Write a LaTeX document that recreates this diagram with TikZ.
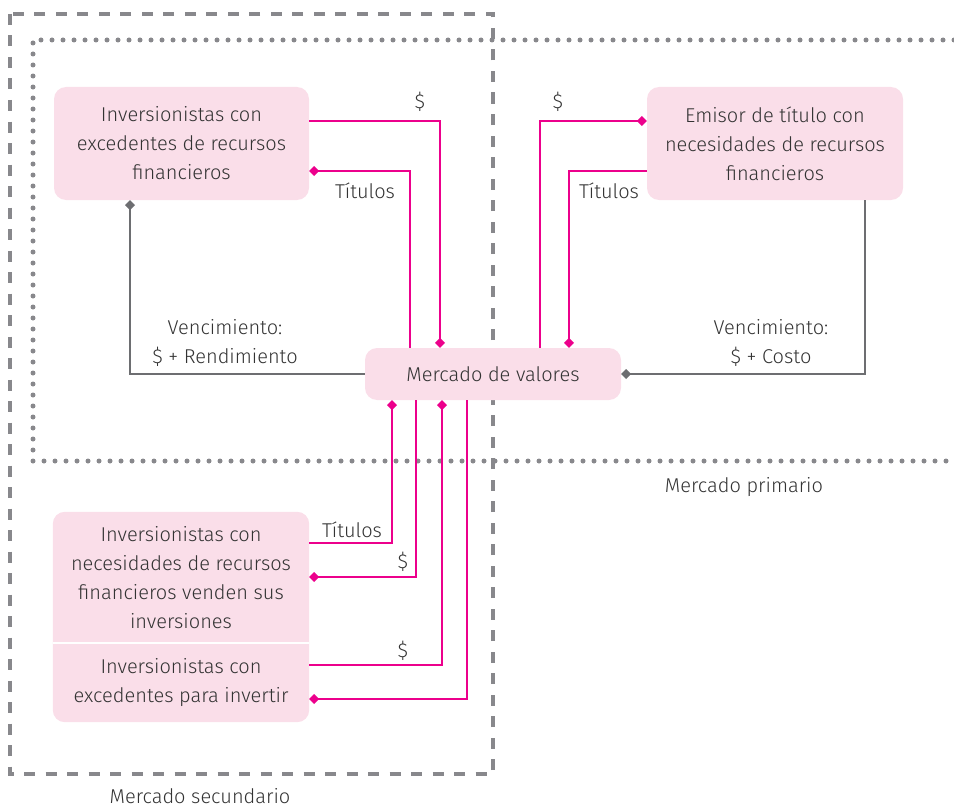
\documentclass[tikz,border=0pt]{standalone}
\usepackage{fontspec}
\setmainfont{Fira Sans}[UprightFont=* Light]
\usetikzlibrary{arrows.meta,backgrounds}
\definecolor{pinkfill}{HTML}{FADEE9}
\definecolor{mag}{HTML}{EC008C}
\definecolor{frame}{HTML}{88888C}
\definecolor{conn}{HTML}{6D6E71}
\definecolor{txt}{HTML}{333333}
\tikzset{
  box/.style={rectangle, rounded corners=12pt, fill=pinkfill, align=center, text=txt, inner sep=0pt},
  plainbox/.style={rectangle, align=center, text=txt, inner sep=0pt},
  lab/.style={text=txt, align=center, inner sep=0pt},
  magline/.style={draw=mag, line width=2.5pt},
  grayline/.style={draw=conn, line width=2pt},
  dtip/.style={-{Turned Square[length=10pt,width=10pt]}},
  dashedframe/.style={draw=frame, line width=4pt, dash pattern=on 11pt off 10.5pt},
  dottedframe/.style={draw=frame, line width=5pt, line cap=round, dash pattern=on 0pt off 11pt},
}
\begin{document}
\begin{tikzpicture}[x=1pt,y=-1pt,font=\fontsize{20}{29}\selectfont]
\useasboundingbox (0,0) rectangle (954,808);
% frames
\draw[dashedframe] (10,14) rectangle (493,774);
\draw[dottedframe] (954,40) -- (33,40) -- (33,461) -- (954,461);
% nodes
\node[box, minimum width=255pt, minimum height=113pt] (A) at (181.5,143.5) {Inversionistas con\\excedentes de recursos\\financieros};
\node[box, minimum width=256pt, minimum height=113pt] (B) at (775,143.5) {Emisor de título con\\necesidades de recursos\\financieros};
\node[box, minimum width=256pt, minimum height=52pt] (M) at (493,374) {Mercado de valores};
\node[plainbox, minimum width=256pt, minimum height=131pt] (C1) at (181,577.5) {Inversionistas con\\necesidades de recursos\\financieros venden sus\\inversiones};
\node[plainbox, minimum width=256pt, minimum height=79pt] (C2) at (181,682.5) {Inversionistas con\\excedentes para invertir};
\begin{scope}[on background layer]
\fill[pinkfill, rounded corners=12pt] (C1.north west) rectangle (C2.south east);
\draw[white, line width=2pt] (C1.south west) -- (C1.south east);
\end{scope}
% top-left connectors
\draw[magline, dtip] (A.east |- 0,121) -| (440,0 |- M.north);
\draw[magline, dtip] (410,0 |- M.north) |- (A.east |- 0,171);
% top-right connectors
\draw[magline, dtip] (540,0 |- M.north) |- (B.west |- 0,121);
\draw[magline, dtip] (B.west |- 0,171) -| (569,0 |- M.north);
% gray connectors
\draw[grayline, dtip] (M.west) -| (130,0 |- A.south);
\draw[grayline, dtip] (865,0 |- B.south) |- (M.east);
% bottom connectors
\draw[magline, dtip] (C1.east |- 0,543) -| (392,0 |- M.south);
\draw[magline, dtip] (416,0 |- M.south) |- (C1.east |- 0,577);
\draw[magline, dtip] (C2.east |- 0,665) -| (442,0 |- M.south);
\draw[magline, dtip] (467,0 |- M.south) |- (C2.east |- 0,699);
% labels
\node[lab] (l1) at (420,102) {\$};
\node[lab] (l2) at (365,191) {Títulos};
\node[lab] (l3) at (558,102) {\$};
\node[lab] (l4) at (609,191) {Títulos};
\node[lab] (l5) at (225,343) {Vencimiento:\\\$ + Rendimiento};
\node[lab] (l6) at (771,343) {Vencimiento:\\\$ + Costo};
\node[lab] (l7) at (352,530) {Títulos};
\node[lab] (l8) at (403,562) {\$};
\node[lab] (l9) at (403,651) {\$};
\node[lab] (l10) at (744,487) {Mercado primario};
\node[lab] (l11) at (200,796) {Mercado secundario};
\end{tikzpicture}
\end{document}
